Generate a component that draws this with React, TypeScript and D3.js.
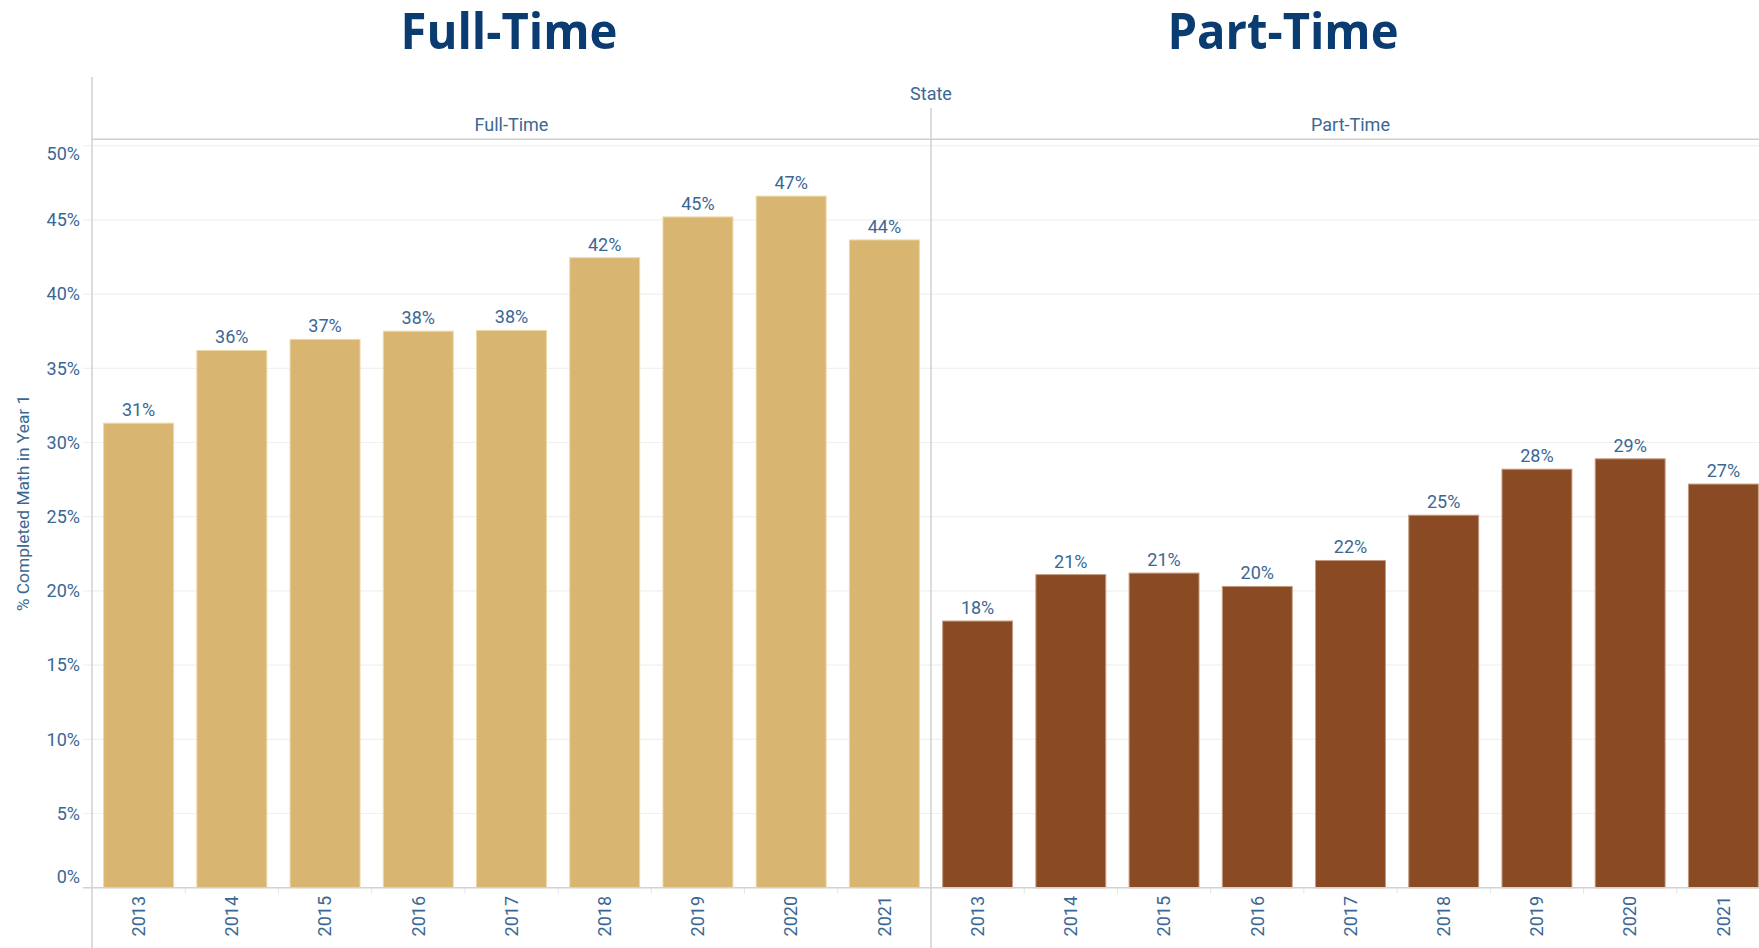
import * as d3 from "d3";
import { useRef, useEffect } from "react";

// Data
const years = ["2013", "2014", "2015", "2016", "2017", "2018", "2019", "2020", "2021"];
const fullTime = [31.3, 36.2, 36.95, 37.5, 37.55, 42.45, 45.2, 46.6, 43.65];
const partTime = [17.97, 21.1, 21.2, 20.3, 22.05, 25.1, 28.2, 28.9, 27.2];
const yTicks = [0, 5, 10, 15, 20, 25, 30, 35, 40, 45, 50];
const panels = ["Full-Time", "Part-Time"];

const W = 1759;
const H = 948;
const TEXT = "#3a6794";
const TITLE = "#0a3c72";

const App = () => {
  const ref = useRef<SVGSVGElement>(null);

  useEffect(() => {
    const svg = d3.select(ref.current);
    svg.selectAll("*").remove();

    const left = 92;
    const paneW = 839;
    const top = 145.7;
    const base = 887.7;

    const y = d3.scaleLinear().domain([0, 50]).range([base, top]);

    // Titles
    const titles = [
      { text: "Full-Time", x: 509, len: 217 },
      { text: "Part-Time", x: 1283, len: 231 },
    ];
    svg.selectAll(".title")
      .data(titles)
      .join("text")
      .attr("x", (d) => d.x)
      .attr("y", 49)
      .attr("text-anchor", "middle")
      .attr("font-family", "'Open Sans', sans-serif")
      .attr("font-weight", 700)
      .attr("font-size", 50)
      .attr("textLength", (d) => d.len)
      .attr("lengthAdjust", "spacingAndGlyphs")
      .attr("fill", TITLE)
      .text((d) => d.text);

    // Gridlines
    svg.append("g")
      .selectAll("line")
      .data(yTicks.slice(1))
      .join("line")
      .attr("x1", 83)
      .attr("x2", W)
      .attr("y1", (d) => y(d))
      .attr("y2", (d) => y(d))
      .attr("stroke", "#f0f0f0")
      .attr("stroke-width", 1.2);

    // Y tick labels (Tableau nudges the end labels inside the pane)
    svg.append("g")
      .selectAll("text")
      .data(yTicks)
      .join("text")
      .attr("x", 80)
      .attr("y", (d) => y(d) + (d === 0 ? -11.5 : d === 50 ? 8 : 0))
      .attr("dy", "0.35em")
      .attr("text-anchor", "end")
      .attr("font-family", "Roboto, sans-serif")
      .attr("font-size", 18)
      .attr("fill", TEXT)
      .text((d) => `${d}%`);

    // Y axis title
    svg.append("text")
      .attr("transform", "translate(23,503) rotate(-90)")
      .attr("dy", "0.35em")
      .attr("text-anchor", "middle")
      .attr("font-family", "Roboto, sans-serif")
      .attr("font-size", 17.4)
      .attr("fill", TEXT)
      .text("% Completed Math in Year 1");

    // Header
    svg.append("text")
      .attr("x", left + paneW)
      .attr("y", 100)
      .attr("text-anchor", "middle")
      .attr("font-family", "Roboto, sans-serif")
      .attr("font-size", 18)
      .attr("fill", TEXT)
      .text("State");

    const series = [fullTime, partTime];
    const fills = ["#d8b570", "#8a4a24"];
    const strokes = ["#ecd7a8", "#c39c84"];

    panels.forEach((name, p) => {
      const x0 = left + p * paneW;
      const x = d3.scaleBand()
        .domain(years)
        .range([x0, x0 + paneW])
        .paddingInner(0.25)
        .paddingOuter(0.125);

      const g = svg.append("g");

      g.append("text")
        .attr("x", x0 + paneW / 2)
        .attr("y", 131)
        .attr("text-anchor", "middle")
        .attr("font-family", "Roboto, sans-serif")
        .attr("font-size", 18)
        .attr("fill", TEXT)
        .text(name);

      const data = years.map((yr, i) => ({ yr, v: series[p][i] }));

      g.selectAll("rect")
        .data(data)
        .join("rect")
        .attr("x", (d) => x(d.yr)!)
        .attr("y", (d) => y(d.v))
        .attr("width", x.bandwidth())
        .attr("height", (d) => base - y(d.v))
        .attr("fill", fills[p])
        .attr("stroke", strokes[p])
        .attr("stroke-width", 1);

      g.selectAll(".val")
        .data(data)
        .join("text")
        .attr("x", (d) => x(d.yr)! + x.bandwidth() / 2)
        .attr("y", (d) => y(d.v) - 7)
        .attr("text-anchor", "middle")
        .attr("font-family", "Roboto, sans-serif")
        .attr("font-size", 18)
        .attr("fill", TEXT)
        .text((d) => `${Math.round(d.v)}%`);

      // Year labels
      g.selectAll(".yr")
        .data(years)
        .join("text")
        .attr("transform", (d) => `translate(${x(d)! + x.bandwidth() / 2},896) rotate(-90)`)
        .attr("dy", "0.35em")
        .attr("text-anchor", "end")
        .attr("font-family", "Roboto, sans-serif")
        .attr("font-size", 18)
        .attr("fill", TEXT)
        .text((d) => d);

      // Small ticks between bands
      g.selectAll(".tick")
        .data(years.slice(1))
        .join("line")
        .attr("x1", (d) => x(d)! - x.step() * 0.125)
        .attr("x2", (d) => x(d)! - x.step() * 0.125)
        .attr("y1", base)
        .attr("y2", base + 6)
        .attr("stroke", "#e4e4e4");
    });

    // Baseline
    svg.append("line")
      .attr("x1", 83).attr("x2", W)
      .attr("y1", base).attr("y2", base)
      .attr("stroke", "#d2d2d2").attr("stroke-width", 1.5);

    // Header rule
    svg.append("line")
      .attr("x1", left).attr("x2", W)
      .attr("y1", 139.3).attr("y2", 139.3)
      .attr("stroke", "#cfcfcf").attr("stroke-width", 1.5);

    // Y axis line
    svg.append("line")
      .attr("x1", left).attr("x2", left)
      .attr("y1", 77).attr("y2", H)
      .attr("stroke", "#d0d0d0").attr("stroke-width", 1.5);

    // Pane divider
    svg.append("line")
      .attr("x1", left + paneW).attr("x2", left + paneW)
      .attr("y1", 108).attr("y2", H)
      .attr("stroke", "#d0d0d0").attr("stroke-width", 1.5);
  }, []);

  return (
    <svg
      ref={ref}
      width={W}
      height={H}
      style={{ position: "absolute", left: 0, top: 0, background: "#fff", overflow: "hidden" }}
    />
  );
};

export default App;
